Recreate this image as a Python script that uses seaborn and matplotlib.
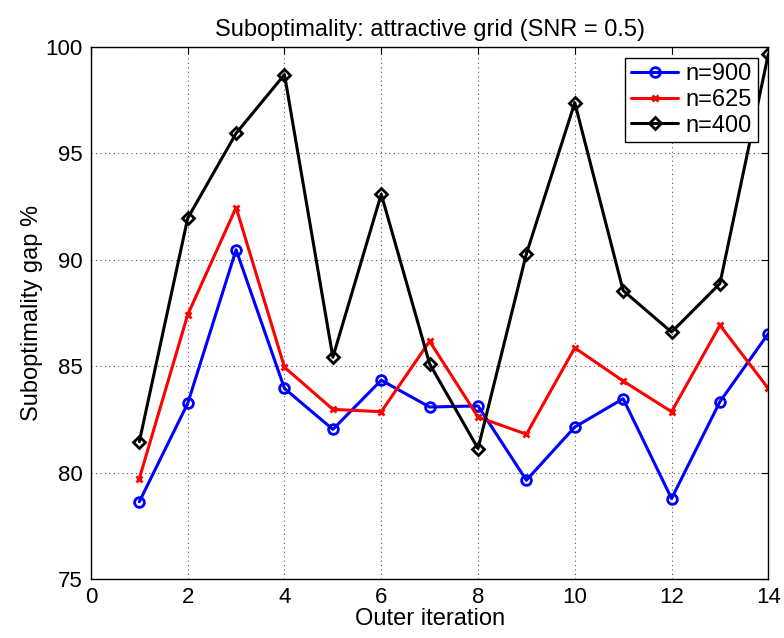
import matplotlib
matplotlib.use("Agg")
import matplotlib.pyplot as plt
import seaborn as sns
import pandas as pd

iterations = list(range(1, 15))
n900 = [78.63, 83.25, 90.47, 83.95, 82.03, 84.34, 83.08, 83.13, 79.64, 82.14, 83.47, 78.78, 83.33, 86.53]
n625 = [79.72, 87.42, 92.45, 84.95, 82.97, 82.86, 86.17, 82.61, 81.80, 85.86, 84.30, 82.86, 86.92, 83.95]
n400 = [81.45, 91.95, 95.94, 98.70, 85.42, 93.08, 85.11, 81.13, 90.28, 97.38, 88.55, 86.60, 88.88, 99.66]
labels = ["n=900", "n=625", "n=400"]
colors = ["#0000ff", "#ff0000", "#000000"]
markers = ["o", "x", "D"]
msizes = [7, 5, 6]

sns.set_theme(style="white")
plt.rcParams['font.family'] = ['Liberation Sans', 'DejaVu Sans']
plt.rcParams['text.color'] = 'black'
plt.rcParams['axes.labelcolor'] = 'black'
plt.rcParams['xtick.color'] = 'black'
plt.rcParams['ytick.color'] = 'black'

fig = plt.figure(figsize=(7.84, 6.38), dpi=100)
ax = fig.add_axes([0.116, 0.0925, 0.864, 0.834])

for series, lab, col, mk, ms in zip([n900, n625, n400], labels, colors, markers, msizes):
    df = pd.DataFrame({"iter": iterations, "val": series})
    sns.lineplot(data=df, x="iter", y="val", ax=ax, color=col, marker=mk,
                 markersize=ms, markerfacecolor="none", markeredgecolor=col,
                 markeredgewidth=2, linewidth=2.2, label=lab)

ax.set_xlim(0, 14)
ax.set_ylim(75, 100)
ax.set_xticks(range(0, 15, 2))
ax.set_yticks(range(75, 101, 5))
ax.grid(True, linestyle=(0, (1, 3)), color="#555555", linewidth=0.8)
for s in ax.spines.values():
    s.set_color("black")
    s.set_linewidth(1.0)
ax.tick_params(direction="in", top=True, right=True, length=5, width=0.8,
               labelsize=16, colors="black", pad=6)
ax.set_xlabel("Outer iteration", fontsize=17, labelpad=0, color="black")
ax.set_ylabel("Suboptimality gap %", fontsize=17, labelpad=2, color="black")
ax.set_title("Suboptimality: attractive grid (SNR = 0.5)", fontsize=17, pad=8, color="black")
leg = ax.legend(loc="upper right", fontsize=17, frameon=True, fancybox=False,
                edgecolor="black", framealpha=1, handlelength=2.0,
                borderpad=0.25, labelspacing=0.15, handletextpad=0.3,
                borderaxespad=0.45)
leg.get_frame().set_linewidth(1.0)
for t in leg.get_texts():
    t.set_color("black")

fig.savefig("out.png", dpi=100)
